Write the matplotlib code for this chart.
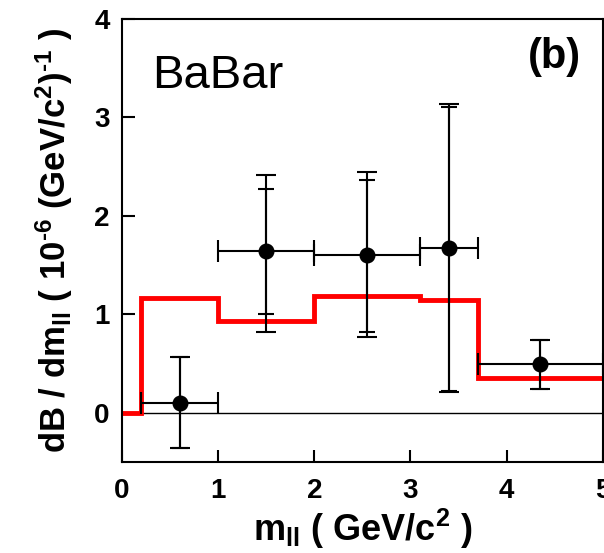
import numpy as np
import matplotlib
matplotlib.use("Agg")
import matplotlib.pyplot as plt

plt.rcParams['font.family'] = ['Liberation Sans', 'DejaVu Sans']
plt.rcParams['mathtext.fontset'] = 'custom'
plt.rcParams['mathtext.rm'] = 'Liberation Sans:bold'
plt.rcParams['mathtext.it'] = 'Liberation Sans:bold'
plt.rcParams['mathtext.bf'] = 'Liberation Sans:bold'

# data points (bin centres, values, bin edges)
x_pts = [0.6, 1.5, 2.55, 3.4, 4.35]
y_pts = [0.10, 1.64, 1.60, 1.67, 0.49]
bin_lo = [0.2, 1.0, 2.0, 3.1, 3.7]
bin_hi = [1.0, 2.0, 3.1, 3.7, 5.0]
# statistical error band edges
stat_up = [0.56, 2.27, 2.36, 3.10, 0.74]
stat_dn = [-0.36, 1.00, 0.82, 0.22, 0.24]
# total error band edges
tot_up = [0.56, 2.41, 2.44, 3.13, 0.74]
tot_dn = [-0.36, 0.82, 0.77, 0.21, 0.24]

# theory prediction histogram (red)
hist_edges = [0.0, 0.2, 1.0, 2.0, 3.1, 3.7, 5.0]
hist_vals = [0.0, 1.16, 0.925, 1.185, 1.145, 0.355]

x = np.array(x_pts)
y = np.array(y_pts)

fig = plt.figure(figsize=(6.04, 5.53), dpi=100)
ax = fig.add_axes([0.202, 0.165, 0.796, 0.801])

ax.axhline(0, color='black', lw=1.0, zorder=1)

ax.stairs(hist_vals, hist_edges, color='red', lw=3.5, baseline=None, zorder=2)

# x error bars = bin widths
ax.errorbar(x, y, xerr=[x - np.array(bin_lo), np.array(bin_hi) - x],
            fmt='none', ecolor='black', elinewidth=1.5, capsize=8,
            capthick=1.5, zorder=3)
# total errors
ax.errorbar(x, y, yerr=[y - np.array(tot_dn), np.array(tot_up) - y],
            fmt='none', ecolor='black', elinewidth=1.5, capsize=7.5,
            capthick=1.5, zorder=3)
# statistical errors
ax.errorbar(x, y, yerr=[y - np.array(stat_dn), np.array(stat_up) - y],
            fmt='o', color='black', ms=10.5, ecolor='black', elinewidth=1.5,
            capsize=6, capthick=1.5, zorder=4)

ax.set_xlim(0, 5)
ax.set_ylim(-0.5, 4)
ax.set_xticks([0, 1, 2, 3, 4, 5])
ax.set_yticks([0, 1, 2, 3, 4])
ax.tick_params(direction='in', length=9, width=1.5, labelsize=20, pad=9)
ax.tick_params(axis='x', pad=12)
for lab in ax.get_xticklabels() + ax.get_yticklabels():
    lab.set_fontweight('bold')
for s in ax.spines.values():
    s.set_linewidth(1.5)

ax.set_xlabel(r'm$_{\rm ll}$ ( GeV/c$^{2}$ )', fontsize=26, fontweight='bold', labelpad=2)
ax.set_ylabel(r'dB / dm$_{\rm ll}$ ( 10$^{\text{-6}}$ (GeV/c$^{2}$)$^{\text{-1}}$ )',
              fontsize=25, fontweight='bold', labelpad=14)

ax.text(0.31, 3.30, 'BaBar', fontsize=34, ha='left', va='baseline')
ax.text(4.77, 3.50, '(b)', fontsize=30, fontweight='bold', ha='right', va='baseline')

fig.savefig('out.png', dpi=100)
